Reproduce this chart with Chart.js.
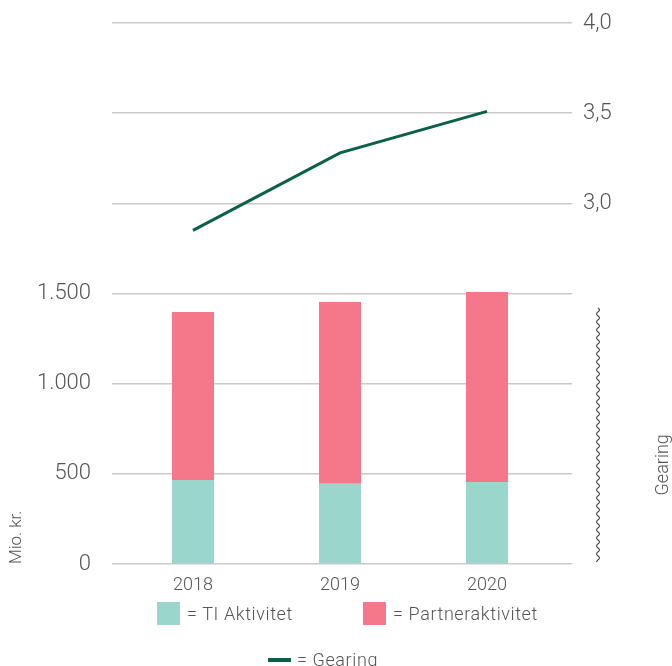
<!DOCTYPE html>
<html>
<head>
<meta charset="utf-8">
<script src="https://cdn.jsdelivr.net/npm/chart.js@4"></script>
<style>
  body { margin: 0; background: #fff; font-family: Roboto, "Open Sans", sans-serif; }
  #wrap { position: relative; width: 672px; height: 666px; overflow: hidden; }
  .leg { position: absolute; font-size: 18px; font-weight: 300; color: #555; white-space: nowrap; line-height: 23px; letter-spacing: 0.6px; }
  .box { display: inline-block; width: 23px; height: 23px; vertical-align: top; margin-right: 7px; }
  .ln { display: inline-block; width: 23px; height: 4px; vertical-align: middle; margin-right: 6px; margin-top: -3px; }
</style>
</head>
<body>
<div id="wrap">
  <canvas id="chart" width="672" height="666"></canvas>
  <div class="leg" style="left:157px; top:602px;"><span class="box" style="background:#9AD6CC"></span>= TI Aktivitet</div>
  <div class="leg" style="left:363px; top:602px;"><span class="box" style="background:#F4778A"></span>= Partneraktivitet</div>
  <div class="leg" style="left:268px; top:648px;"><span class="ln" style="background:#0B6148"></span>= Gearing</div>
</div>
<script>
const years = ["2018", "2019", "2020"];
const tiAktivitet = [466, 445, 455];
const partnerAktivitet = [931, 1008, 1053];
const gearing = [2.85, 3.28, 3.51];

const textColor = "#555";
const gridColor = "#c9c9c9";

function fmtThousands(v) {
    return String(v).replace(/\B(?=(\d{3})+(?!\d))/g, ".");
}

// pair each value with its year index on the x axis
const toPoints = arr => arr.map((v, i) => ({ x: i, y: v }));

// wavy break line + rotated "Gearing" label on the right
const extras = {
    id: "extras",
    afterDraw(chart) {
        const c = chart.ctx;
        const y = chart.scales.y;
        const x0 = 598;
        const top = y.getPixelForValue(1420), bottom = y.getPixelForValue(10);
        c.save();
        c.strokeStyle = "#444";
        c.lineWidth = 1.1;
        c.beginPath();
        for (let py = top; py <= bottom; py += 1) {
            const px = x0 + 1.5 * Math.sin((py - top) / 8 * 2 * Math.PI);
            if (py === top) c.moveTo(px, py); else c.lineTo(px, py);
        }
        c.stroke();

        c.translate(663, y.getPixelForValue(550));
        c.rotate(-Math.PI / 2);
        c.fillStyle = textColor;
        c.font = "300 18px Roboto";
        c.textAlign = "center";
        c.textBaseline = "middle";
        c.fillText("Gearing", 0, 0);
        c.restore();
    }
};

function noVPad(s) {
    s.paddingTop = 0;
    s.paddingBottom = 0;
}

new Chart(document.getElementById("chart"), {
    data: {
        datasets: [
            {
                type: "line",
                label: "Gearing",
                data: toPoints(gearing),
                yAxisID: "y1",
                borderColor: "#0B6148",
                borderWidth: 3,
                pointRadius: 0,
                tension: 0,
                order: 0
            },
            {
                type: "bar",
                label: "TI Aktivitet",
                data: toPoints(tiAktivitet),
                backgroundColor: "#9AD6CC",
                stack: "s",
                categoryPercentage: 1,
                barPercentage: 0.286,
                order: 1
            },
            {
                type: "bar",
                label: "Partneraktivitet",
                data: toPoints(partnerAktivitet),
                backgroundColor: "#F4778A",
                stack: "s",
                categoryPercentage: 1,
                barPercentage: 0.286,
                order: 1
            }
        ]
    },
    options: {
        responsive: false,
        animation: false,
        devicePixelRatio: 1,
        layout: { padding: { top: 23, left: 0, right: 0, bottom: 0 } },
        plugins: { legend: { display: false }, tooltip: { enabled: false } },
        scales: {
            x: {
                type: "linear",
                stacked: true,
                offset: false,
                min: -0.551,
                max: 2.578,
                grid: { display: false },
                border: { display: false },
                afterBuildTicks(s) { s.ticks = years.map((_, i) => ({ value: i })); },
                ticks: {
                    color: textColor,
                    font: { family: "Roboto", size: 18, weight: "300" },
                    padding: 3,
                    callback: v => years[v]
                },
                afterFit(s) { s.height = 102; s.paddingLeft = 0; s.paddingRight = 0; }
            },
            y: {
                stacked: true,
                position: "left",
                min: 0,
                max: 3000,
                grid: { color: gridColor, lineWidth: 1.5, drawTicks: false },
                border: { display: false },
                ticks: {
                    stepSize: 500,
                    padding: 21,
                    color: textColor,
                    font: { family: "Roboto", size: 22, weight: "300" },
                    callback: v => v <= 1500 ? fmtThousands(v) : ""
                },
                title: {
                    display: true,
                    text: "Mio. kr.",
                    align: "start",
                    color: textColor,
                    font: { family: "Roboto", size: 17, weight: "300" },
                    padding: { top: 7, bottom: 0 }
                },
                afterFit(s) { s.width = 112; noVPad(s); }
            },
            y1: {
                position: "right",
                min: 1,
                max: 4,
                grid: { display: false, drawTicks: false },
                border: { display: false },
                ticks: {
                    stepSize: 0.5,
                    padding: 11,
                    color: textColor,
                    font: { family: "Roboto", size: 22, weight: "300" },
                    callback: v => v >= 3 ? v.toFixed(1).replace(".", ",") : ""
                },
                afterFit(s) { s.width = 100; noVPad(s); }
            }
        }
    },
    plugins: [extras]
});
</script>
</body>
</html>
